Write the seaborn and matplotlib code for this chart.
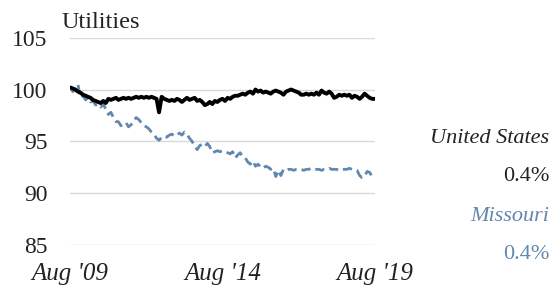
import numpy as np
import pandas as pd
import matplotlib
matplotlib.use("Agg")
import matplotlib.pyplot as plt
import seaborn as sns

dates = pd.date_range("2009-08-01", "2019-08-01", freq="MS")

us = [100.2, 100.1, 100.0, 99.8, 99.7, 99.5, 99.4, 99.3, 99.2, 99.0,
      98.9, 98.8, 98.7, 98.9, 98.7, 99.1, 99.0, 99.1, 99.2, 99.0,
      99.1, 99.2, 99.1, 99.2, 99.1, 99.2, 99.3, 99.2, 99.3, 99.2,
      99.3, 99.2, 99.3, 99.2, 99.1, 97.8, 99.3, 99.1, 99.0, 98.9,
      99.0, 98.9, 99.1, 99.0, 98.8, 99.0, 99.2, 99.0, 99.1, 99.2,
      98.9, 99.0, 98.8, 98.5, 98.6, 98.8, 98.6, 98.9, 98.8, 99.0,
      99.1, 98.9, 99.2, 99.1, 99.3, 99.4, 99.4, 99.5, 99.6, 99.5,
      99.7, 99.8, 99.6, 100.0, 99.8, 99.9, 99.7, 99.8, 99.7, 99.6,
      99.8, 99.9, 99.8, 99.7, 99.5, 99.8, 99.9, 100.0, 99.9, 99.8,
      99.7, 99.5, 99.5, 99.6, 99.5, 99.6, 99.5, 99.7, 99.5, 99.9,
      99.7, 99.6, 99.8, 99.6, 99.2, 99.3, 99.5, 99.4, 99.5, 99.4,
      99.5, 99.2, 99.4, 99.3, 99.1, 99.3, 99.6, 99.4, 99.2, 99.1,
      99.1]

missouri = [100.2, 99.8, 100.1, 100.5, 99.2, 99.4, 99.0, 99.2, 98.8, 98.9,
            98.5, 98.6, 98.3, 98.6, 98.1, 97.6, 97.8, 97.3, 96.9, 96.9,
            96.5, 96.7, 96.8, 96.4, 96.6, 97.0, 97.3, 97.1, 96.8, 96.5,
            96.4, 96.2, 95.9, 95.7, 95.3, 95.1, 95.4, 95.5, 95.4, 95.6,
            95.7, 95.5, 95.6, 95.8, 95.6, 95.9, 95.7, 95.3, 95.0, 94.5,
            94.2, 94.6, 94.7, 94.5, 94.8, 94.5, 93.9, 94.0, 94.1, 94.0,
            94.1, 94.0, 93.9, 93.8, 94.0, 93.4, 93.7, 93.9, 93.5, 93.4,
            93.0, 92.8, 93.1, 92.6, 92.8, 92.5, 92.4, 92.6, 92.5, 92.3,
            92.4, 91.6, 92.2, 91.7, 92.3, 92.2, 92.3, 92.3, 92.2, 92.3,
            92.3, 92.3, 92.2, 92.3, 92.3, 92.4, 92.3, 92.3, 92.3, 92.2,
            92.3, 92.3, 92.4, 92.3, 92.3, 92.3, 92.2, 92.3, 92.3, 92.3,
            92.4, 92.3, 92.3, 92.2, 91.7, 91.5, 91.6, 92.1, 92.0, 91.6,
            91.7]

yticks = [85, 90, 95, 100, 105]
xtick_dates = pd.to_datetime(["2009-08-01", "2014-08-01", "2019-08-01"])
xtick_labels = ["Aug '09", "Aug '14", "Aug '19"]

blue = "#6388ad"

sns.set_style("white")
plt.rcParams["font.family"] = ["Liberation Serif", "DejaVu Serif"]

df = pd.DataFrame({"date": list(dates) * 2,
                   "value": us + missouri,
                   "series": ["United States"] * len(us) + ["Missouri"] * len(missouri)})

fig = plt.figure(figsize=(5.55, 2.88), dpi=100)
ax = fig.add_axes([70/555, 1 - 245/288, 305/555, (245 - 37.7)/288])

sns.lineplot(data=df[df.series == "Missouri"], x="date", y="value", ax=ax,
             color=blue, linewidth=2.0, linestyle=(0, (3.4, 1.8)), legend=False)
sns.lineplot(data=df[df.series == "United States"], x="date", y="value", ax=ax,
             color="black", linewidth=2.8, legend=False)

ax.set_ylim(85, 105)
ax.set_xlim(dates[0] - pd.Timedelta(days=3), dates[-1] + pd.Timedelta(days=3))
ax.set_yticks(yticks)
ax.set_yticklabels([str(t) for t in yticks])
ax.set_xticks(xtick_dates)
ax.set_xticklabels(xtick_labels, style="italic")
ax.tick_params(axis="y", length=0, pad=16, labelsize=17, colors="#222222")
ax.tick_params(axis="x", length=0, pad=13, labelsize=18, colors="#222222")
ax.grid(axis="y", color="#d9d9d9", linewidth=1)
ax.set_axisbelow(True)
for s in ax.spines.values():
    s.set_visible(False)
ax.set_xlabel("")
ax.set_ylabel("")

fig.text(62/555, 1 - 28/288, "Utilities", fontsize=17.5, color="#222222", va="baseline")

rx = 549/555
fig.text(rx, 1 - 143/288, "United States", fontsize=16, style="italic", color="#222222",
         ha="right", va="baseline")
fig.text(rx, 1 - 181/288, "0.4%", fontsize=16, color="#222222", ha="right", va="baseline")
fig.text(rx, 1 - 221/288, "Missouri", fontsize=16, style="italic", color=blue,
         ha="right", va="baseline")
fig.text(rx, 1 - 259/288, "0.4%", fontsize=16, color=blue, ha="right", va="baseline")

fig.savefig("out.png", dpi=100)
